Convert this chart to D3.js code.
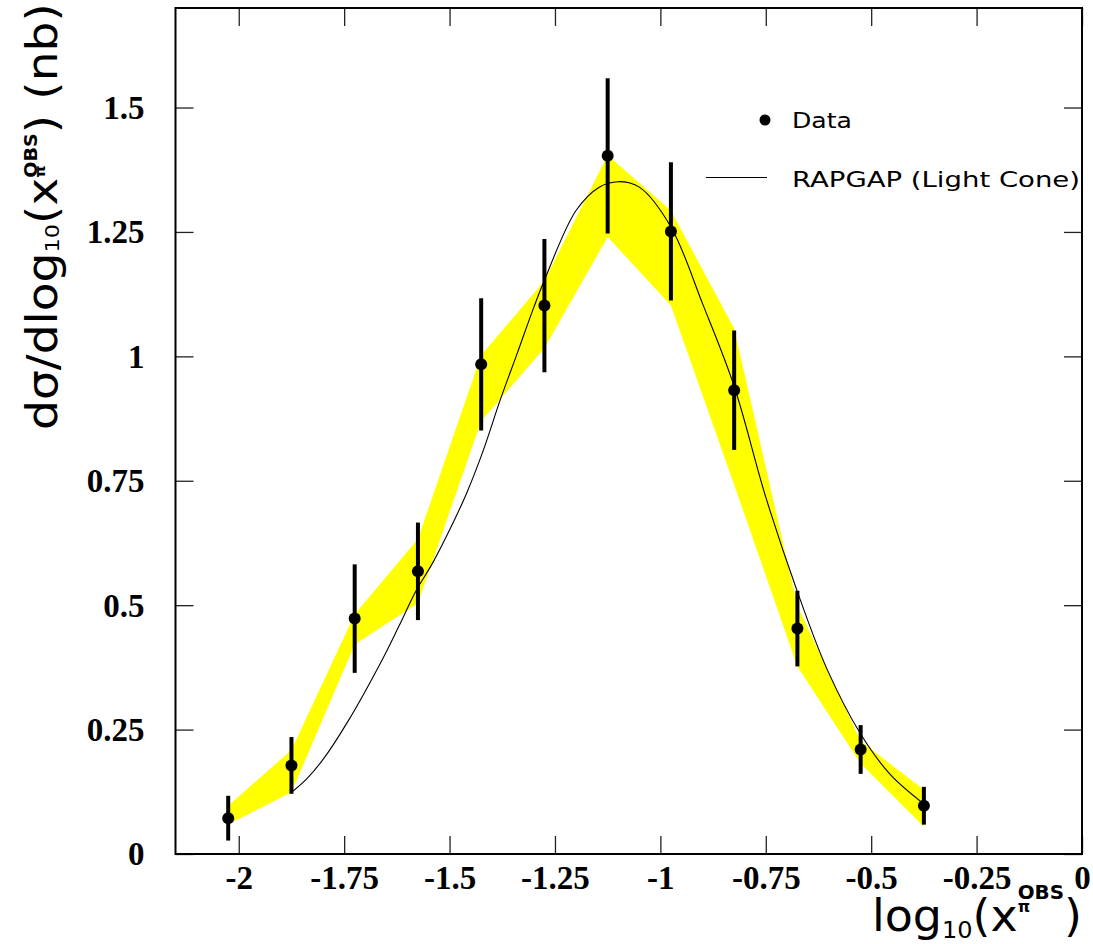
<!DOCTYPE html>
<html>
<head>
<meta charset="utf-8">
<script src="https://cdn.jsdelivr.net/npm/d3@7"></script>
<style>
  html, body { margin: 0; padding: 0; background: #fff; }
  svg { display: block; }
</style>
</head>
<body>
<svg id="chart" width="1093" height="944"></svg>
<script>
// ---- data ----
const binCenters = [-2.025, -1.875, -1.725, -1.575, -1.425, -1.275, -1.125, -0.975, -0.825, -0.675, -0.525, -0.375];
const dataValues = [0.072, 0.178, 0.473, 0.568, 0.984, 1.102, 1.403, 1.251, 0.932, 0.453, 0.210, 0.097];
const dataErrors = [0.045, 0.057, 0.109, 0.098, 0.133, 0.134, 0.156, 0.139, 0.120, 0.076, 0.049, 0.038];
const bandLow  = [0.060, 0.124, 0.421, 0.504, 0.870, 1.017, 1.240, 1.102, 0.742, 0.377, 0.182, 0.055];
const bandHigh = [0.097, 0.209, 0.482, 0.633, 1.002, 1.152, 1.404, 1.293, 1.056, 0.499, 0.227, 0.129];
const rapgapX = [-1.875, -1.84, -1.80, -1.74, -1.66, -1.62, -1.58, -1.54, -1.50, -1.46, -1.42, -1.38, -1.34, -1.30, -1.275, -1.20, -1.145, -1.10, -1.05, -0.975, -0.90, -0.825, -0.75, -0.675, -0.605, -0.525, -0.455, -0.375];
const rapgapY = [0.124, 0.150, 0.190, 0.268, 0.39, 0.458, 0.528, 0.585, 0.651, 0.724, 0.811, 0.912, 1.005, 1.099, 1.153, 1.293, 1.340, 1.351, 1.340, 1.26, 1.106, 0.940, 0.717, 0.527, 0.372, 0.241, 0.160, 0.1006];
const xTicks = [-2, -1.75, -1.5, -1.25, -1, -0.75, -0.5, -0.25, 0];
const xTickLabels = ["-2", "-1.75", "-1.5", "-1.25", "-1", "-0.75", "-0.5", "-0.25", "0"];
const yTicks = [0, 0.25, 0.5, 0.75, 1, 1.25, 1.5];
const yTickLabels = ["0", "0.25", "0.5", "0.75", "1", "1.25", "1.5"];
const legendLabels = ["Data", "RAPGAP (Light Cone)"];

// ---- layout ----
const L = 175.5, R = 1082, T = 8, B = 854;
const svg = d3.select("#chart");
const x = d3.scaleLinear().domain([-2.15, 0]).range([L, R]);
const y = d3.scaleLinear().domain([0, 1.7]).range([B, T]);

// band
const band = binCenters.map((c, i) => ({x: c, lo: bandLow[i], hi: bandHigh[i]}));
svg.append("path")
  .datum(band)
  .attr("fill", "#ffff00")
  .attr("stroke", "none")
  .attr("d", d3.area().x(d => x(d.x)).y0(d => y(d.lo)).y1(d => y(d.hi)));

// RAPGAP curve
const curve = rapgapX.map((v, i) => ({x: v, y: rapgapY[i]}));
svg.append("path")
  .datum(curve)
  .attr("fill", "none")
  .attr("stroke", "#000")
  .attr("stroke-width", 1.1)
  .attr("d", d3.line().x(d => x(d.x)).y(d => y(d.y)).curve(d3.curveCatmullRom.alpha(0.5)));

// data points
const pts = binCenters.map((c, i) => ({x: c, v: dataValues[i], e: dataErrors[i]}));
svg.append("g").selectAll("line").data(pts).join("line")
  .attr("x1", d => x(d.x)).attr("x2", d => x(d.x))
  .attr("y1", d => y(d.v - d.e)).attr("y2", d => y(d.v + d.e))
  .attr("stroke", "#000").attr("stroke-width", 4);
svg.append("g").selectAll("circle").data(pts).join("circle")
  .attr("cx", d => x(d.x)).attr("cy", d => y(d.v)).attr("r", 6).attr("fill", "#000");

// axes (ticks inward)
const tickFont = "'Liberation Serif', 'Times New Roman', serif";
function styleAxis(g) {
  g.select(".domain").remove();
  g.selectAll(".tick line").attr("stroke", "#222").attr("stroke-width", 1.3);
  g.selectAll("text").attr("font-family", tickFont).attr("font-weight", "bold")
    .attr("font-size", 33).attr("fill", "#000");
}
const fmtX = d => xTickLabels[xTicks.indexOf(d)];
const fmtY = d => yTickLabels[yTicks.indexOf(d)];

svg.append("g").attr("transform", `translate(0,${B})`)
  .call(d3.axisBottom(x).tickValues(xTicks).tickFormat(fmtX).tickSizeInner(-18).tickSizeOuter(0).tickPadding(12))
  .call(styleAxis)
  .call(g => g.selectAll("text").attr("dy", "0.71em"));
svg.append("g").attr("transform", `translate(0,${T})`)
  .call(d3.axisTop(x).tickValues(xTicks).tickFormat("").tickSizeInner(-18).tickSizeOuter(0))
  .call(styleAxis);
svg.append("g").attr("transform", `translate(${L},0)`)
  .call(d3.axisLeft(y).tickValues(yTicks).tickFormat(fmtY).tickSizeInner(-18).tickSizeOuter(0).tickPadding(31))
  .call(styleAxis)
  .call(g => g.selectAll("text").attr("dy", "0.33em"));
svg.append("g").attr("transform", `translate(${R},0)`)
  .call(d3.axisRight(y).tickValues(yTicks).tickFormat("").tickSizeInner(-18).tickSizeOuter(0))
  .call(styleAxis);

// frame
svg.append("rect").attr("x", L).attr("y", T).attr("width", R - L).attr("height", B - T)
  .attr("fill", "none").attr("stroke", "#000").attr("stroke-width", 2);

// ---- titles ----
const titleFont = "'DejaVu Sans', 'Noto Sans', sans-serif";
function fitText(t, tx, ty, rot, targetLen) {
  const bb = t.node().getBBox();
  const s = targetLen / bb.width;
  t.attr("transform", `translate(${tx},${ty}) rotate(${rot}) scale(${s},1) translate(${-bb.x},0)`);
}
function measure(str, size, weight) {
  const tmp = svg.append("text").attr("font-family", titleFont).attr("font-size", size)
    .attr("font-weight", weight).text(str);
  const w = tmp.node().getComputedTextLength();
  tmp.remove();
  return w;
}

// y title
{
  const t = svg.append("text").attr("font-family", titleFont).attr("font-size", 42).attr("fill", "#000");
  t.append("tspan").text("dσ/dlog");
  t.append("tspan").attr("font-size", 20).attr("dy", 2).text("10");
  t.append("tspan").attr("dy", -2).text("(x");
  const piW = measure("π", 14, "bold");
  t.append("tspan").attr("font-size", 14).attr("font-weight", "bold").attr("dy", -12).text("π");
  t.append("tspan").attr("font-size", 17).attr("font-weight", "bold").attr("dx", -piW).attr("dy", -8).text("OBS");
  t.append("tspan").attr("dy", 20).text(") (nb)");
  fitText(t, 57, 430, -90, 427);
}
// x title
{
  const t = svg.append("text").attr("font-family", titleFont).attr("font-size", 44).attr("fill", "#000");
  t.append("tspan").text("log");
  t.append("tspan").attr("font-size", 23).attr("dy", 7).text("10");
  t.append("tspan").attr("dy", -7).text("(x");
  const piW = measure("π", 15, "bold");
  t.append("tspan").attr("font-size", 15).attr("font-weight", "bold").attr("dy", -19).text("π");
  t.append("tspan").attr("font-size", 19).attr("font-weight", "bold").attr("dx", -piW).attr("dy", -13).text("OBS");
  t.append("tspan").attr("dy", 32).text(")");
  fitText(t, 872, 931, 0, 210);
}

// ---- legend ----
svg.append("circle").attr("cx", 765).attr("cy", 120).attr("r", 5.5).attr("fill", "#000");
svg.append("line").attr("x1", 706).attr("x2", 767).attr("y1", 177.5).attr("y2", 177.5)
  .attr("stroke", "#000").attr("stroke-width", 1.1);
svg.append("text").attr("x", 792).attr("y", 127.5).attr("font-family", titleFont).attr("font-size", 21.5)
  .attr("textLength", 60).attr("lengthAdjust", "spacingAndGlyphs").text(legendLabels[0]);
svg.append("text").attr("x", 792).attr("y", 187).attr("font-family", titleFont).attr("font-size", 21.5)
  .attr("textLength", 288).attr("lengthAdjust", "spacingAndGlyphs").text(legendLabels[1]);
</script>
</body>
</html>
